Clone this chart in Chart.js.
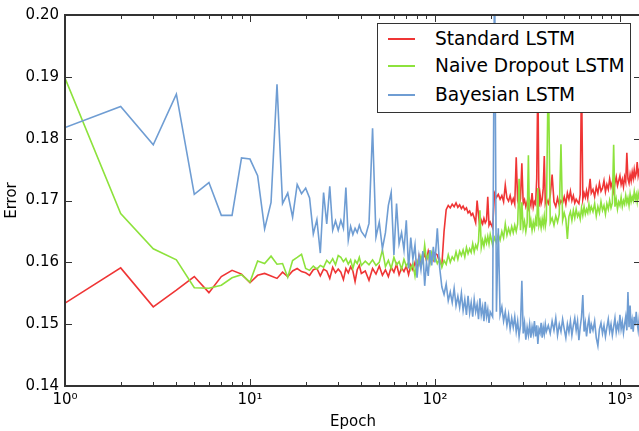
<!DOCTYPE html>
<html>
<head>
<meta charset="utf-8">
<title>LSTM error vs epoch</title>
<script src="https://cdn.jsdelivr.net/npm/chart.js@4.4.1/dist/chart.umd.min.js"></script>
<style>
  html, body { margin: 0; padding: 0; background: #fff; overflow: hidden; }
  #wrap { position: relative; width: 641px; height: 431px; }
  #legend {
    position: absolute; left: 377px; top: 23px; width: 252px; height: 88px;
    border: 1.5px solid #333; background: #fff;
    font-family: 'DejaVu Sans', sans-serif; font-size: 18.6px; color: #000;
  }
  .row { position: absolute; left: 0; right: 0; height: 24px; line-height: 24px; }
  .swatch { position: absolute; left: 10px; top: 11px; width: 27px; height: 2px; }
  .label { position: absolute; left: 57px; white-space: nowrap; }
</style>
</head>
<body>
<div id="wrap">
  <canvas id="errChart" width="641" height="431"></canvas>
  <div id="legend"></div>
</div>
<script>
// --- DATA ---
const epochs = [
  1, 2, 3, 4, 5, 6, 7, 8, 9, 10, 11, 12, 13, 14, 15, 16, 17, 18, 19, 20,
  21, 22, 23, 24, 25, 26, 27, 28, 29, 30, 31, 32, 33, 34, 35, 36, 37, 38, 39, 40,
  42, 44, 46, 48, 50, 52, 54, 56, 58, 60, 62, 64, 66, 68, 70, 72, 74, 76, 78, 80,
  82, 84, 86, 88, 90, 92, 94, 96, 98, 100,
  103, 106, 109, 112, 115, 118, 121, 124, 127, 130, 133, 136, 139, 142, 145, 148,
  151, 154, 157, 160, 163, 166, 169, 172, 175, 178, 181, 184, 187, 190, 193, 196, 199,
  205, 210, 215, 220, 225, 230, 235, 240, 245, 250, 255, 260, 265, 270, 275, 280,
  285, 290, 295, 300, 305, 310, 315, 320, 325, 330, 335, 340, 345, 350, 355, 360,
  365, 370, 375, 380, 385, 390, 395, 400,
  410, 420, 430, 440, 450, 460, 470, 480, 490, 500, 510, 520, 530, 540, 550, 560,
  570, 580, 590, 600, 610, 620, 630, 640, 650, 660, 670, 680, 690, 700,
  715, 730, 745, 760, 775, 790, 805, 820, 835, 850, 865, 880, 895, 910, 925, 940,
  955, 970, 985, 1000, 1015, 1030, 1045, 1060, 1075, 1090, 1105, 1120, 1135, 1150,
  1165, 1180, 1195, 1210, 1225, 1240, 1255, 1270, 1285, 1300
];

const standardLstm = [
  // 1-40
  .1534, .1591, .1528, .1555, .1577, .1551, .1577, .1587, .1581, .1567,
  .1579, .1582, .1578, .1574, .1584, .1577, .1586, .1590, .1585, .1583,
  .1579, .1588, .1590, .1578, .1589, .1586, .1574, .1592, .1583, .1589,
  .1584, .1572, .1590, .1583, .1593, .1586, .1569, .1588, .1595, .1582,
  // 42-100
  .1586, .1571, .1590, .1581, .1594, .1579, .1588, .1577, .1592, .1584,
  .1597, .1580, .1591, .1585, .1594, .1580, .1596, .1588, .1600, .1592,
  .1610, .1596, .1605, .1614, .1603, .1618, .1607, .1612, .1604, .1615,
  // 103-199
  .1612, .1600, .1596, .1650, .1685, .1692, .1688, .1694, .1690, .1696,
  .1689, .1693, .1687, .1691, .1685, .1688, .1680, .1683, .1676, .1679,
  .1672, .1664, .1700, .1676, .1657, .1668, .1662, .1671, .1664, .1668,
  .1706, .1660, .1665,
  // 205-400
  .1656, .1712, .1705, .1710, .1702, .1708, .1698, .1725, .1704, .1699,
  .1708, .1696, .1703, .1694, .1770, .1700, .1692, .1703, .1760, .1695,
  .1701, .1690, .1698, .1688, .1700, .1692, .1712, .1689, .1698, .1694,
  .1735, .1905, .1690, .1710, .1695, .1702, .1720, .1772, .1696, .1703,
  // 410-700
  .1695, .1708, .1742, .1698, .1690, .1704, .1692, .1700, .1696, .1706,
  .1694, .1712, .1702, .1715, .1700, .1708, .1696, .1702, .1698, .1695,
  .1710, .1905, .1702, .1712, .1705, .1716, .1704, .1718, .1735, .1712,
  // 715-1300
  .1718, .1706, .1722, .1712, .1728, .1715, .1720, .1732, .1714, .1726,
  .1718, .1735, .1722, .1730, .1715, .1728, .1738, .1724, .1732, .1740,
  .1726, .1734, .1722, .1738, .1730, .1777, .1735, .1728, .1742, .1732,
  .1746, .1736, .1750, .1738, .1744, .1762, .1740, .1748, .1738, .1745
];

const naiveDropoutLstm = [
  // 1-40
  .1898, .1679, .1622, .1604, .1559, .1558, .1563, .1575, .1580, .1568,
  .1602, .1598, .1610, .1597, .1598, .1576, .1603, .1608, .1613, .1590,
  .1587, .1594, .1589, .1595, .1592, .1603, .1598, .1606, .1596, .1611,
  .1608, .1601, .1606, .1597, .1604, .1590, .1603, .1598, .1608, .1595,
  // 42-100
  .1602, .1596, .1604, .1595, .1600, .1620, .1593, .1603, .1590, .1608,
  .1596, .1601, .1589, .1605, .1594, .1600, .1588, .1598, .1578, .1602,
  .1596, .1610, .1600, .1628, .1604, .1612, .1598, .1615, .1605, .1610,
  // 103-199
  .1598, .1606, .1592, .1603, .1597, .1612, .1600, .1609, .1604, .1617,
  .1605, .1618, .1611, .1620, .1609, .1624, .1614, .1622, .1616, .1630,
  .1617, .1628, .1622, .1634, .1684, .1624, .1636, .1626, .1640, .1631,
  .1642, .1630, .1645,
  // 205-400
  .1628, .1640, .1632, .1645, .1636, .1650, .1640, .1662, .1644, .1655,
  .1646, .1658, .1648, .1660, .1650, .1662, .1735, .1652, .1697, .1655,
  .1666, .1650, .1664, .1773, .1656, .1668, .1652, .1665, .1655, .1670,
  .1658, .1720, .1660, .1668, .1656, .1670, .1660, .1675, .1658, .1668,
  // 410-700
  .1920, .1664, .1672, .1660, .1675, .1665, .1678, .1791, .1668, .1680,
  .1670, .1638, .1674, .1682, .1668, .1684, .1672, .1686, .1674, .1680,
  .1670, .1688, .1676, .1690, .1678, .1686, .1680, .1694, .1682, .1690,
  // 715-1300
  .1682, .1695, .1675, .1690, .1680, .1698, .1684, .1692, .1678, .1695,
  .1686, .1700, .1688, .1696, .1790, .1690, .1702, .1686, .1698, .1692,
  .1705, .1690, .1700, .1694, .1708, .1696, .1704, .1692, .1710, .1698,
  .1706, .1700, .1714, .1702, .1710, .1698, .1712, .1704, .1716, .1706
];

const bayesianLstm = [
  // 1-40
  .1818, .1852, .1790, .1872, .1710, .1729, .1676, .1676, .1769, .1767,
  .1740, .1654, .1697, .1888, .1695, .1712, .1673, .1726, .1711, .1720,
  .1704, .1646, .1669, .1615, .1713, .1662, .1723, .1652, .1667, .1652,
  .1668, .1655, .1721, .1636, .1658, .1645, .1655, .1648, .1660, .1650,
  // 42-100
  .1641, .1663, .1817, .1641, .1665, .1622, .1648, .1692, .1713, .1612,
  .1695, .1630, .1648, .1620, .1668, .1590, .1640, .1605, .1628, .1575,
  .1610, .1588, .1618, .1562, .1600, .1578, .1620, .1595, .1625, .1600,
  // 103-199
  .1655, .1592, .1560, .1548, .1565, .1538, .1552, .1535, .1558, .1530,
  .1545, .1527, .1550, .1522, .1540, .1515, .1546, .1518, .1535, .1512,
  .1540, .1520, .1532, .1508, .1542, .1515, .1528, .1505, .1536, .1512,
  .1524, .1502, .1520,
  // 205-400
  .1512, .2100, .1520, .1655, .1515, .1528, .1505, .1520, .1498, .1515,
  .1492, .1510, .1495, .1512, .1488, .1505, .1480, .1498, .1570, .1485,
  .1502, .1475, .1495, .1482, .1500, .1478, .1496, .1485, .1505, .1480,
  .1498, .1468, .1492, .1486, .1502, .1478, .1495, .1484, .1500, .1488,
  // 410-700
  .1498, .1485, .1505, .1490, .1510, .1482, .1500, .1488, .1508, .1492,
  .1478, .1500, .1487, .1505, .1482, .1498, .1510, .1490, .1505, .1474,
  .1495, .1512, .1547, .1488, .1502, .1480, .1498, .1510, .1485, .1500,
  // 715-1300
  .1490, .1505, .1478, .1465, .1492, .1502, .1485, .1498, .1480, .1495,
  .1508, .1488, .1500, .1482, .1496, .1510, .1487, .1500, .1490, .1515,
  .1492, .1504, .1486, .1500, .1512, .1490, .1552, .1495, .1530, .1492,
  .1506, .1488, .1512, .1498, .1520, .1502, .1490, .1508, .1495, .1503
];

const seriesNames = ['Standard LSTM', 'Naive Dropout LSTM', 'Bayesian LSTM'];
const seriesColors = ['#ef3535', '#8de23c', '#6f9dd3'];

const xTickValues = [
  1, 2, 3, 4, 5, 6, 7, 8, 9,
  10, 20, 30, 40, 50, 60, 70, 80, 90,
  100, 200, 300, 400, 500, 600, 700, 800, 900, 1000
];
const xTickLabels = { 1: '10⁰', 10: '10¹', 100: '10²', 1000: '10³' };
const yTickValues = [0.14, 0.15, 0.16, 0.17, 0.18, 0.19, 0.20];

// --- HELPERS ---
function toPoints(values) {
  return epochs.map((e, i) => ({ x: e, y: values[i] }));
}

function buildLegend() {
  const box = document.getElementById('legend');
  const tops = [2.5, 30, 58.5];
  seriesNames.forEach((name, i) => {
    const row = document.createElement('div');
    row.className = 'row';
    row.style.top = tops[i] + 'px';
    const sw = document.createElement('div');
    sw.className = 'swatch';
    sw.style.background = seriesColors[i];
    const lb = document.createElement('div');
    lb.className = 'label';
    lb.textContent = name;
    row.appendChild(sw);
    row.appendChild(lb);
    box.appendChild(row);
  });
}

// inward ticks + box frame, matplotlib style
const framePlugin = {
  id: 'frame',
  afterDatasetsDraw(chart) {
    const { ctx, chartArea: a, scales } = chart;
    const x = scales.x, y = scales.y;
    ctx.save();
    ctx.strokeStyle = '#333';
    ctx.lineWidth = 1;
    const seg = (x1, y1, x2, y2) => {
      ctx.beginPath(); ctx.moveTo(x1, y1); ctx.lineTo(x2, y2); ctx.stroke();
    };
    xTickValues.forEach(v => {
      const px = Math.round(x.getPixelForValue(v)) + 0.5;
      const len = xTickLabels[v] ? 7 : 4;
      seg(px, a.bottom, px, a.bottom - len);
      seg(px, a.top, px, a.top + len);
    });
    yTickValues.forEach(v => {
      const py = Math.round(y.getPixelForValue(v)) + 0.5;
      seg(a.left, py, a.left + 7, py);
      seg(a.right, py, a.right - 7, py);
    });
    ctx.lineWidth = 2;
    ctx.strokeRect(a.left, a.top, a.right - a.left, a.bottom - a.top);
    ctx.restore();
  }
};

// --- CHART ---
Chart.defaults.font.family = "'DejaVu Sans', sans-serif";
Chart.defaults.color = '#000';

const datasets = [standardLstm, naiveDropoutLstm, bayesianLstm].map((vals, i) => ({
  label: seriesNames[i],
  data: toPoints(vals),
  borderColor: seriesColors[i],
  borderWidth: 1.6,
  pointRadius: 0,
  tension: 0,
  fill: false,
  order: 3 - i
}));

new Chart(document.getElementById('errChart').getContext('2d'), {
  type: 'line',
  data: { datasets: datasets },
  options: {
    responsive: false,
    animation: false,
    events: [],
    layout: { padding: { top: 14, right: 0, left: 0, bottom: 0 } },
    plugins: { legend: { display: false }, tooltip: { enabled: false } },
    scales: {
      x: {
        type: 'logarithmic',
        min: 1,
        max: 1300,
        afterFit(s) { s.height = 45; },
        afterBuildTicks(s) { s.ticks = xTickValues.map(v => ({ value: v })); },
        grid: { display: false, drawTicks: false },
        border: { display: false },
        ticks: {
          autoSkip: false, maxRotation: 0, padding: 5,
          font: { size: 15 },
          callback: v => xTickLabels[v] || ''
        },
        title: { display: true, text: 'Epoch', font: { size: 15 }, padding: { top: 0, bottom: 0 } }
      },
      y: {
        min: 0.14,
        max: 0.20,
        afterFit(s) { s.width = 65; },
        afterBuildTicks(s) { s.ticks = yTickValues.map(v => ({ value: v })); },
        grid: { display: false, drawTicks: false },
        border: { display: false },
        ticks: { padding: 6, font: { size: 15 }, callback: v => v.toFixed(2) },
        title: { display: true, text: 'Error', font: { size: 15 }, padding: { top: 3, bottom: 0 } }
      }
    }
  },
  plugins: [framePlugin]
});

buildLegend();
</script>
</body>
</html>
